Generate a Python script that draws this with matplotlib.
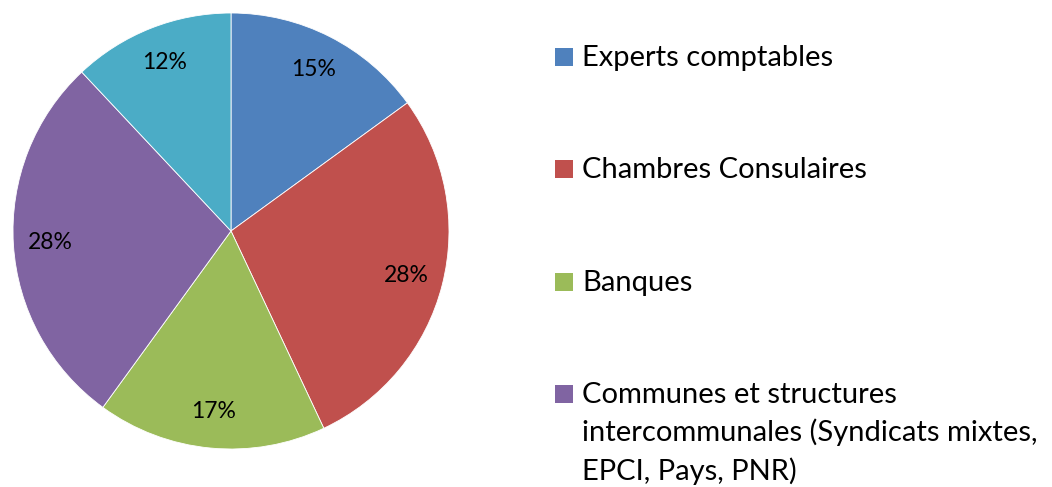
import matplotlib
matplotlib.use("Agg")
import matplotlib.pyplot as plt
from matplotlib.patches import Rectangle

categories = ["Experts comptables", "Chambres Consulaires", "Banques",
              "Communes et structures\nintercommunales (Syndicats mixtes,\nEPCI, Pays, PNR)",
              "Autres"]
values = [15, 28, 17, 28, 12]
colors = ["#4F81BD", "#C0504D", "#9BBB59", "#8064A2", "#4BACC6"]

plt.rcParams['font.family'] = ['Lato', 'DejaVu Sans']

W, H = 1052, 487
fig = plt.figure(figsize=(W / 100, H / 100), dpi=100)
ax = fig.add_axes([13 / W, 38 / H, 436 / W, 436 / H])
wedges, texts, autotexts = ax.pie(values, colors=colors, startangle=90, counterclock=False,
                                  autopct=lambda p: f"{p:.0f}%", pctdistance=0.83,
                                  wedgeprops=dict(edgecolor="white", linewidth=0.6),
                                  textprops=dict(fontsize=16.5, color="black"))
ax.set_xlim(-1, 1)
ax.set_ylim(-1, 1)
ax.set_aspect("equal")

# legend (only the first four entries are visible in the reference)
centers = [57, 169, 282, 394]
sq = 18
line_step = 38.5
for i in range(4):
    cy = centers[i]
    fig.patches.append(Rectangle(((555) / W, 1 - (cy + sq / 2) / H), sq / W, sq / H,
                                 transform=fig.transFigure, facecolor=colors[i],
                                 edgecolor="none"))
    for j, line in enumerate(categories[i].split("\n")):
        base = cy + 9 + j * line_step
        fig.text(582 / W, 1 - base / H, line, fontsize=21, va="baseline", ha="left",
                 color="black")

fig.savefig("out.png", dpi=100)
